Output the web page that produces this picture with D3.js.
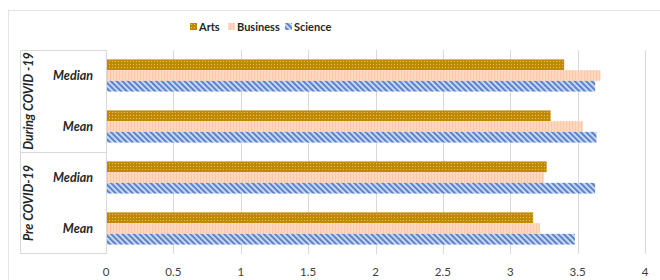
<!DOCTYPE html>
<html>
<head>
<meta charset="utf-8">
<script src="https://cdn.jsdelivr.net/npm/d3@7"></script>
<style>
  body { margin: 0; background: #fff; }
  svg text { font-family: Lato, "Open Sans", sans-serif; }
</style>
</head>
<body>
<svg id="chart"></svg>
<script>
// data
var groups = ["During COVID -19", "Pre COVID-19"];
var stats = ["Median", "Mean"];
var series = ["Arts", "Business", "Science"];
var arts = [3.40, 3.30, 3.27, 3.17];
var business = [3.67, 3.54, 3.25, 3.22];
var science = [3.63, 3.64, 3.63, 3.48];
var ticks = [0, 0.5, 1, 1.5, 2, 2.5, 3, 3.5, 4];

var width = 660, height = 280;
var svg = d3.select("#chart").attr("width", width).attr("height", height);

// patterns
var defs = svg.append("defs");
var pa = defs.append("pattern").attr("id", "p-arts").attr("patternUnits", "userSpaceOnUse")
  .attr("width", 3).attr("height", 3);
pa.append("rect").attr("width", 3).attr("height", 3).attr("fill", "#bf8a00");
pa.append("rect").attr("x", 1).attr("y", 1).attr("width", 1).attr("height", 1).attr("fill", "#e3bf66");

var pb = defs.append("pattern").attr("id", "p-business").attr("patternUnits", "userSpaceOnUse")
  .attr("width", 3).attr("height", 3);
pb.append("rect").attr("width", 3).attr("height", 3).attr("fill", "#ffd8c0");
pb.append("rect").attr("x", 2).attr("width", 1).attr("height", 3).attr("fill", "#ffc7a6");

var ps = defs.append("pattern").attr("id", "p-science").attr("patternUnits", "userSpaceOnUse")
  .attr("width", 4).attr("height", 4).attr("patternTransform", "rotate(-45)");
ps.append("rect").attr("width", 4).attr("height", 4).attr("fill", "#dde6f6");
ps.append("rect").attr("width", 2.3).attr("height", 4).attr("fill", "#5b84cf");

var fills = {"Arts": "url(#p-arts)", "Business": "url(#p-business)", "Science": "url(#p-science)"};

// outer frame
svg.append("rect").attr("x", 8.5).attr("y", 10.5).attr("width", 700).attr("height", 300)
  .attr("fill", "none").attr("stroke", "#e3e3e3");

var plotLeft = 106, plotRight = 645, plotTop = 50, plotBottom = 254;

var x = d3.scaleLinear().domain([0, 4]).range([plotLeft, plotRight]);

var rows = [];
groups.forEach(function (g) { stats.forEach(function (s) { rows.push(g + "|" + s); }); });

var y = d3.scaleBand().domain(rows).range([plotTop, plotBottom]).paddingInner(0.37).paddingOuter(0.185);
var ys = d3.scaleBand().domain(series).range([0, y.bandwidth()]);

// gridlines
svg.append("g").selectAll("line").data(ticks.slice(1)).enter().append("line")
  .attr("x1", function (d) { return Math.round(x(d)) + 0.5; })
  .attr("x2", function (d) { return Math.round(x(d)) + 0.5; })
  .attr("y1", plotTop).attr("y2", plotBottom)
  .attr("stroke", "#d9d9d9").attr("stroke-width", 1);

// tick labels
svg.append("g").selectAll("text").data(ticks).enter().append("text")
  .attr("x", function (d) { return x(d); }).attr("y", 276)
  .attr("text-anchor", "middle").attr("font-size", 11.5).attr("fill", "#404040")
  .text(function (d) { return d; });

// bars
var values = {"Arts": arts, "Business": business, "Science": science};
series.forEach(function (s) {
  svg.append("g").selectAll("rect").data(values[s]).enter().append("rect")
    .attr("x", x(0))
    .attr("y", function (d, i) { return y(rows[i]) + ys(s); })
    .attr("width", function (d) { return x(d) - x(0); })
    .attr("height", ys.bandwidth())
    .attr("fill", fills[s]);
});

// category table
var table = svg.append("g").attr("stroke", "#d9d9d9").attr("stroke-width", 1).attr("fill", "none");
var mid = (plotTop + plotBottom) / 2;
table.append("path").attr("d",
  "M20.5," + plotTop + "V" + plotBottom +
  "M20.5," + (plotTop + 0.5) + "H" + plotLeft +
  "M20.5," + (Math.round(mid) + 0.5) + "H" + plotLeft +
  "M20.5," + (plotBottom - 0.5) + "H" + plotLeft +
  "M" + (plotLeft + 0.5) + "," + plotTop + "V" + plotBottom);

// stat labels
svg.append("g").selectAll("text").data(rows).enter().append("text")
  .attr("x", 93).attr("y", function (d) { return y(d) + y.bandwidth() / 2 + 4; })
  .attr("text-anchor", "end").attr("font-size", 12.5).attr("font-weight", "bold")
  .attr("font-style", "italic").attr("fill", "#262626")
  .text(function (d) { return d.split("|")[1]; });

// group labels
var gy = d3.scaleBand().domain(groups).range([plotTop, plotBottom]);
svg.append("g").selectAll("text").data(groups).enter().append("text")
  .attr("transform", function (d) { return "translate(33," + (gy(d) + gy.bandwidth() / 2) + ") rotate(-90)"; })
  .attr("text-anchor", "middle").attr("font-size", 12.5).attr("font-weight", "bold")
  .attr("font-style", "italic").attr("fill", "#262626")
  .text(function (d) { return d; });

// legend
var legendX = [190, 228, 285];
var leg = svg.append("g").selectAll("g").data(series).enter().append("g")
  .attr("transform", function (d, i) { return "translate(" + legendX[i] + ",23)"; });
leg.append("rect").attr("width", 7).attr("height", 7).attr("fill", function (d) { return fills[d]; });
leg.append("text").attr("x", 9).attr("y", 7.8).attr("font-size", 11).attr("font-weight", "bold")
  .attr("fill", "#262626").text(function (d) { return d; });
</script>
</body>
</html>
